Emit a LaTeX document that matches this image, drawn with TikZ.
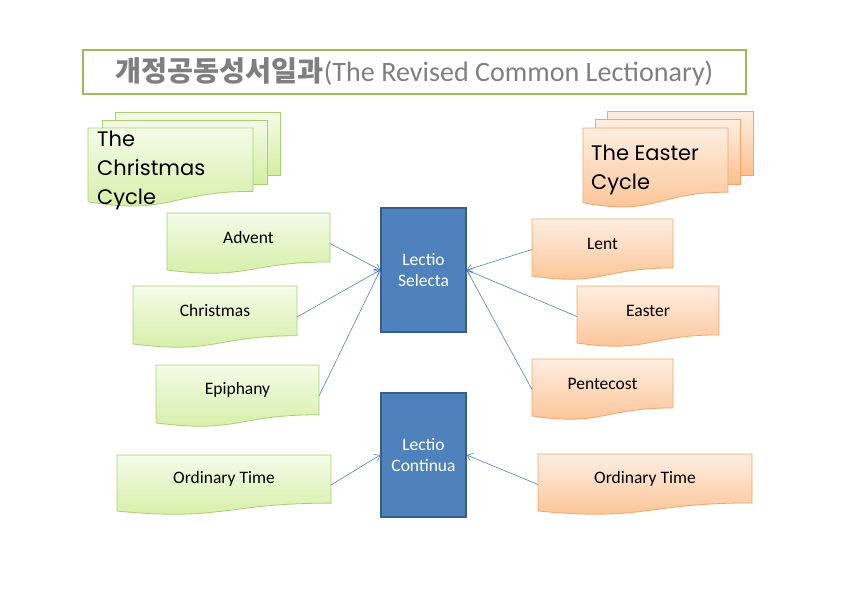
\documentclass[tikz,border=0pt]{standalone}
\usepackage{fontspec}
\setmainfont{Carlito}
\newfontfamily\cyclefont{Poppins}
\newfontfamily\korfont{Noto Sans CJK KR}
\usetikzlibrary{arrows.meta, calc}
\definecolor{TitleGray}{HTML}{7F7F7F}
\definecolor{TitleGreen}{HTML}{9BBB59}
\definecolor{DocGreenTop}{HTML}{F4FBE9}
\definecolor{DocGreenBot}{HTML}{D3EEA2}
\definecolor{DocGreenLine}{HTML}{A9CF72}
\definecolor{DocOrangeTop}{HTML}{FEEEE2}
\definecolor{DocOrangeBot}{HTML}{FBC190}
\definecolor{DocOrangeLine}{HTML}{F7A466}
\definecolor{LectioBlue}{HTML}{4F81BD}
\definecolor{LectioEdge}{HTML}{385D8A}

% document shape: style, name, x, y, w, h, text
\newcommand{\docshape}[7]{%
  \path[#1] (#3,#4) -- ++(#5,0) -- ++(0,0.802*#6)
    .. controls +(-0.5*#5,0) and +(0.5*#5,0.173*#6) .. ++(-#5,0.132*#6) -- cycle;
  \node[docframe, minimum width=#5pt, minimum height=#6pt] (#2) at (#3+0.5*#5,#4+0.5*#6) {};
  \node[doclabel] (#2-text) at (#3+0.5*#5,#4+0.401*#6) {#7};
}

\begin{document}
\begin{tikzpicture}[x=1pt, y=-1pt,
  docframe/.style={inner sep=0pt, outer sep=0pt},
  doclabel/.style={inner sep=0pt, font=\fontsize{17.5}{21}\selectfont},
  greendoc/.style={draw=DocGreenLine, line width=0.8pt, top color=DocGreenTop, bottom color=DocGreenBot},
  orangedoc/.style={draw=DocOrangeLine, line width=0.8pt, top color=DocOrangeTop, bottom color=DocOrangeBot},
  lectio/.style={draw=LectioEdge, line width=1.5pt, fill=LectioBlue, text=white,
    minimum width=85pt, minimum height=124pt, align=center, font=\fontsize{17.5}{21}\selectfont},
  cycletext/.style={inner sep=0pt, anchor=north west, align=left,
    font=\cyclefont\fontsize{21}{29}\selectfont},
  link/.style={draw=LectioBlue, line width=0.6pt, -{Straight Barb[length=5pt, width=8pt]}}]
\useasboundingbox (0,0) rectangle (841,595);

% --- Title ---
\node[draw=TitleGreen, line width=1.6pt, minimum width=663pt, minimum height=44pt, inner sep=0pt,
  text=TitleGray] (title) at (414.5,72)
  {{\korfont\bfseries\fontsize{28.3}{30}\selectfont 개정공동성서일과}{\fontsize{28.1}{30}\selectfont(The Revised Common Lectionary)}};

% --- The Christmas Cycle ---
\path[greendoc] (115,112) rectangle (280,175);
\path[greendoc] (102,120) rectangle (267,184);
\docshape{greendoc}{xmascycle}{88}{128}{165}{79}{}
\node[cycletext] (xmascycle-title) at (97,131) {The\\Christmas\\Cycle};

% --- The Easter Cycle ---
\path[orangedoc] (607,111) rectangle (753,175);
\path[orangedoc] (595,119) rectangle (740,184);
\docshape{orangedoc}{eastercycle}{583}{128}{145}{80}{}
\node[cycletext] (eastercycle-title) at (591,145) {The Easter\\Cycle};

% --- Lectio boxes ---
\node[lectio] (selecta) at (423.5,270) {Lectio\\Selecta};
\node[lectio] (continua) at (423.5,455) {Lectio\\Continua};

% --- Christmas seasons ---
\docshape{greendoc}{advent}{167}{213}{163}{61}{Advent}
\docshape{greendoc}{christmas}{133}{286}{164}{62}{Christmas}
\docshape{greendoc}{epiphany}{156}{365}{163}{62}{Epiphany}
\docshape{greendoc}{ordinaryA}{117}{455}{214}{60}{Ordinary Time}

% --- Easter seasons ---
\docshape{orangedoc}{lent}{532}{219}{141}{61}{Lent}
\docshape{orangedoc}{easter}{577}{286}{142}{61}{Easter}
\docshape{orangedoc}{pentecost}{532}{359}{141}{61}{Pentecost}
\docshape{orangedoc}{ordinaryB}{538}{454}{214}{61}{Ordinary Time}

% --- Connectors ---
\draw[link] (advent.east) -- (selecta.west);
\draw[link] (christmas.east) -- (selecta.west);
\draw[link] (epiphany.east) -- (selecta.west);
\draw[link] (lent.west) -- (selecta.east);
\draw[link] (easter.west) -- (selecta.east);
\draw[link] (pentecost.west) -- (selecta.east);
\draw[link] (ordinaryA.east) -- (continua.west);
\draw[link] (ordinaryB.west) -- (continua.east);
\end{tikzpicture}
\end{document}
